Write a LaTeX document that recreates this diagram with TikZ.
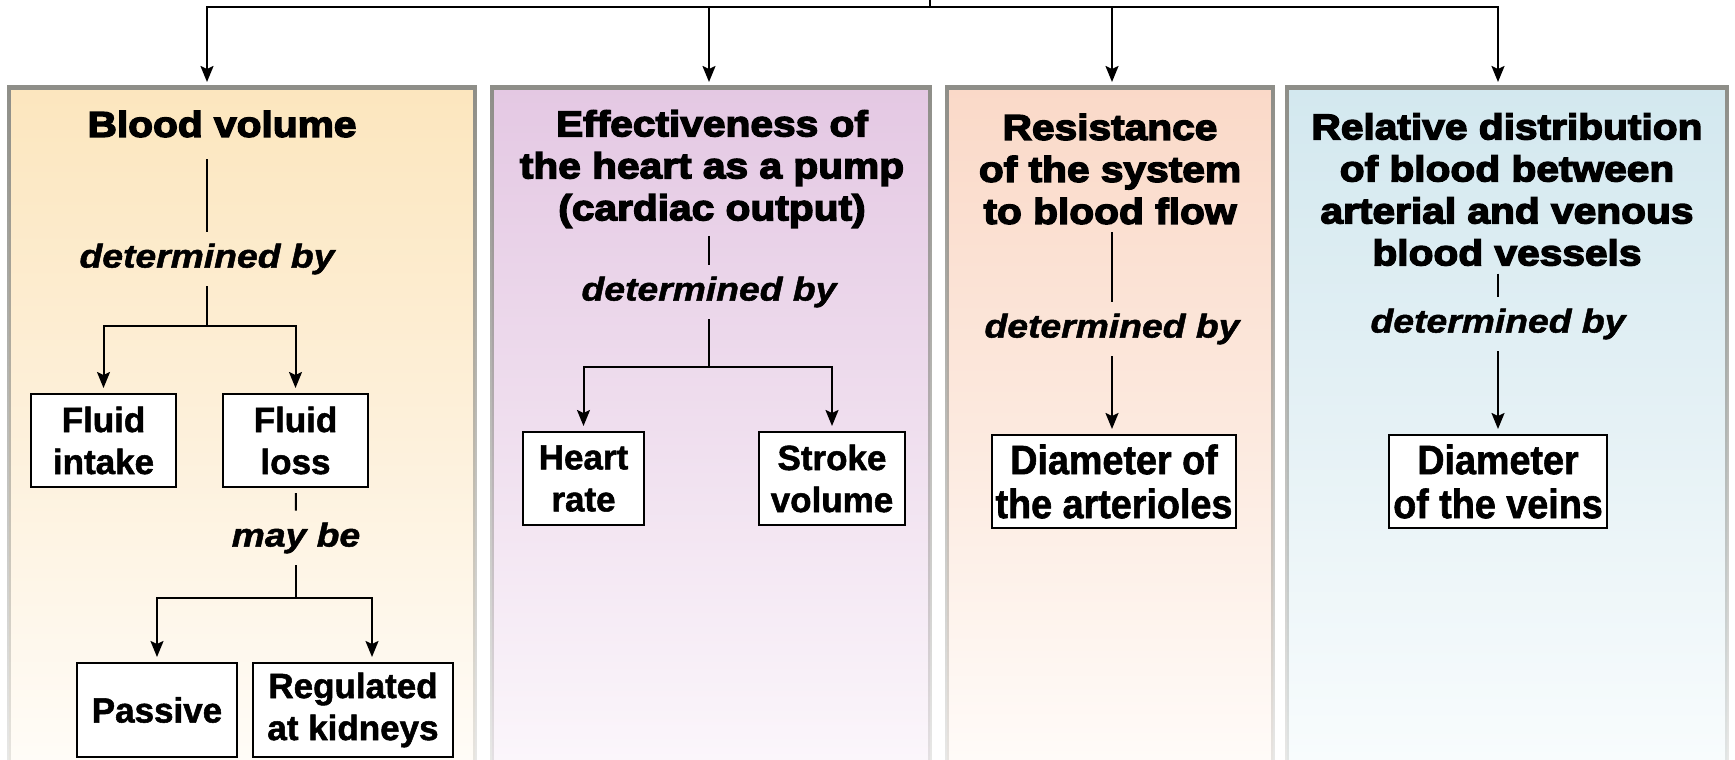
\documentclass[tikz,border=0pt]{standalone}
\usepackage{fontspec}
\setmainfont{Liberation Sans}
\newfontfamily\heavyfont[FakeStretch=1.13,FakeBold=4]{Liberation Sans}
\newfontfamily\linkfont[FakeStretch=1.13,FakeBold=1.5]{Liberation Sans}
\newfontfamily\boxfont[FakeBold=1.5]{Liberation Sans}
\newfontfamily\narrowfont[FakeStretch=0.92,FakeBold=1.5]{Liberation Sans}
\usepackage{tikz}
\usetikzlibrary{arrows.meta}
\usetikzlibrary{fadings}
\definecolor{rimgray}{HTML}{8E8E88}
\definecolor{bvtop}{HTML}{FCE6BE}
\definecolor{bvmid}{HTML}{FDF0DA}
\definecolor{bvbot}{HTML}{FFFCF7}
\definecolor{cotop}{HTML}{E4C8E3}
\definecolor{comid}{HTML}{EFDEEE}
\definecolor{cobot}{HTML}{FBF6FB}
\definecolor{rstop}{HTML}{FAD9C8}
\definecolor{rsmid}{HTML}{FCE9DE}
\definecolor{rsbot}{HTML}{FFFBF8}
\definecolor{vntop}{HTML}{D3E8EF}
\definecolor{vnmid}{HTML}{E5F1F5}
\definecolor{vnbot}{HTML}{F8FCFD}
\tikzfading[name=fadedown, top color=transparent!0, bottom color=transparent!80]

\begin{document}
\begin{tikzpicture}[x=0.5pt, y=-0.5pt, line width=1pt,
    >={Stealth[length=8pt,width=6.5pt,inset=1.5pt]},
    panel/.style = {inner sep=0, outer sep=0, minimum height=336.5pt},
    rim/.style = {line width=2.2pt, draw=rimgray, path fading=fadedown},
    title/.style = {align=center, inner sep=0, outer sep=4pt, font=\heavyfont\bfseries\fontsize{18}{21}\selectfont},
    link/.style = {inner sep=0, outer sep=6pt, font=\linkfont\bfseries\itshape\fontsize{16.5}{20}\selectfont},
    cause/.style = {draw, fill=white, align=center, inner sep=0, outer sep=3pt, minimum height=46.5pt, font=\boxfont\bfseries\fontsize{17.5}{21}\selectfont},
    thin/.style = {font=\narrowfont\bfseries\fontsize{20.5}{22}\selectfont}]
    \useasboundingbox (0,0) rectangle (1735,760);

    % Panels
    \node[panel, minimum width=233pt, top color=bvtop, bottom color=bvbot, middle color=bvmid] (p1) at (242,423.5) {};
    \node[panel, minimum width=219pt, top color=cotop, bottom color=cobot, middle color=comid] (p2) at (711,423.5) {};
    \node[panel, minimum width=163pt, top color=rstop, bottom color=rsbot, middle color=rsmid] (p3) at (1110,423.5) {};
    \node[panel, minimum width=220pt, top color=vntop, bottom color=vnbot, middle color=vnmid] (p4) at (1507,423.5) {};
    \draw[rim] (p1.south west) |- (p1.north east) -- (p1.south east);
    \draw[rim] (p2.south west) |- (p2.north east) -- (p2.south east);
    \draw[rim] (p3.south west) |- (p3.north east) -- (p3.south east);
    \draw[rim] (p4.south west) |- (p4.north east) -- (p4.south east);

    % Nodes
    \node[title] (10) at (222,124) {Blood volume};
    \node[link] (11) at (207,259) {determined by};
    \node[cause, minimum width=72.5pt] (12) at (103.5,440.5) {Fluid\\intake};
    \node[cause, minimum width=72.5pt] (13) at (295.5,440.5) {Fluid\\loss};
    \node[link] (14) at (296,538) {may be};
    \node[cause, minimum width=80pt, minimum height=47pt] (15) at (157,710) {Passive};
    \node[cause, minimum width=100pt, minimum height=47pt] (16) at (353,710) {Regulated\\at kidneys};

    \node[title] (20) at (712,169) {Effectiveness of\\the heart as a pump\\(cardiac output)};
    \node[link] (21) at (709,292) {determined by};
    \node[cause, minimum width=60.5pt] (22) at (583.5,478.5) {Heart\\rate};
    \node[cause, minimum width=73pt] (23) at (832,478.5) {Stroke\\volume};

    \node[title] (30) at (1110,169) {Resistance\\of the system\\to blood flow};
    \node[link] (31) at (1112,329) {determined by};
    \node[cause, thin, minimum width=122pt] (32) at (1114,481.5) {Diameter of\\the arterioles};

    \node[title] (40) at (1507,189.5) {Relative distribution\\of blood between\\arterial and venous\\blood vessels};
    \node[link] (41) at (1498,324) {determined by};
    \node[cause, thin, minimum width=109pt] (42) at (1498,481.5) {Diameter\\of the veins};

    \coordinate (t0) at (930,7);
    \coordinate (j1) at (207,326);
    \coordinate (j2) at (296,598);
    \coordinate (j3) at (709,367);

    % Edges
    \draw (t0) -- ++(0,-12);
    \draw[->, shorten >=2.5pt] (t0) -| (p1.north -| 11);
    \draw[->, shorten >=2.5pt] (t0) -| (p2.north -| 21);
    \draw[->, shorten >=2.5pt] (t0) -| (p3.north -| 31);
    \draw[->, shorten >=2.5pt] (t0) -| (p4.north -| 41);

    \draw[shorten <=7pt] (10.south -| 11) -- (11);
    \draw (11) -- (j1);
    \draw[->] (j1) -| (12);
    \draw[->] (j1) -| (13);
    \draw (13) -- (14);
    \draw (14) -- (j2);
    \draw[->] (j2) -| (15);
    \draw[->] (j2) -| ([xshift=9.5pt]16.north);

    \draw (20.south -| 21) -- (21);
    \draw (21) -- (j3);
    \draw[->] (j3) -| (22);
    \draw[->] (j3) -| (23);

    \draw (30.south -| 31) -- (31);
    \draw[->] (31) -- (32.north -| 31);

    \draw (40.south -| 41) -- (41);
    \draw[->] (41) -- (42);

\end{tikzpicture}
\end{document}
